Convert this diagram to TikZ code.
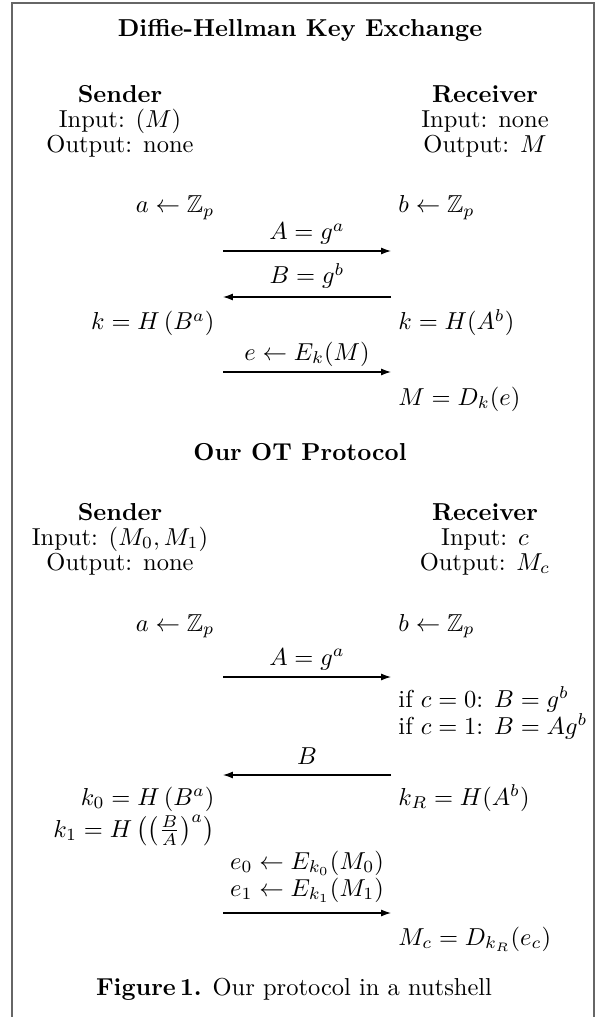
\documentclass[tikz,border=0pt]{standalone}
\usepackage{amsmath,amssymb}
\usetikzlibrary{arrows.meta}
\begin{document}
\begin{tikzpicture}[x=0.4082pt,y=-0.4082pt,
  lt/.style={anchor=base east,inner sep=0pt},
  rt/.style={anchor=base west,inner sep=0pt},
  ct/.style={anchor=base,inner sep=0pt},
  msg/.style={-{Latex[length=4pt,width=2.8pt]},line width=0.45pt},
  frame/.style={draw=black!60,line width=0.6pt}]
\useasboundingbox (0,0) rectangle (600,1017);
\draw[frame] (12,1017) -- (12,3) -- (594,3) -- (594,1017);

% ---------- Diffie-Hellman ----------
\node[ct] (t1) at (300,37) {\textbf{Diffie-Hellman Key Exchange}};
\node[ct] (s1h) at (120,103) {\textbf{Sender}};
\node[ct] (s1i) at (120,128) {Input: $(M)$};
\node[ct] (s1o) at (120,153) {Output: none};
\node[ct] (r1h) at (485,103) {\textbf{Receiver}};
\node[ct] (r1i) at (485,128) {Input: none};
\node[ct] (r1o) at (485,153) {Output: $M$};

\node[lt] (sa1) at (215,213) {$a \leftarrow \mathbb{Z}_p$};
\node[rt] (rb1) at (398,213) {$b \leftarrow \mathbb{Z}_p$};
\coordinate (m1s) at (223,251); \coordinate (m1e) at (391,251);
\node[ct] (m1l) at (307,240) {$A = g^a$};
\draw[msg] (m1s) -- (m1e);
\coordinate (m2s) at (391,297); \coordinate (m2e) at (223,297);
\node[ct] (m2l) at (307,284) {$B = g^b$};
\draw[msg] (m2s) -- (m2e);
\node[lt] (sk1) at (215,330) {$k = H\left(B^a\right)$};
\node[rt] (rk1) at (398,330) {$k = H(A^b)$};
\coordinate (m3s) at (223,372); \coordinate (m3e) at (391,372);
\node[ct] (m3l) at (307,360) {$e \leftarrow E_k(M)$};
\draw[msg] (m3s) -- (m3e);
\node[rt] (rm1) at (398,405) {$M = D_k(e)$};

% ---------- OT ----------
\node[ct] (t2) at (300,460) {\textbf{Our OT Protocol}};
\node[ct] (s2h) at (120,520) {\textbf{Sender}};
\node[ct] (s2i) at (120,545) {Input: $(M_0, M_1)$};
\node[ct] (s2o) at (120,570) {Output: none};
\node[ct] (r2h) at (485,520) {\textbf{Receiver}};
\node[ct] (r2i) at (485,545) {Input: $c$};
\node[ct] (r2o) at (485,570) {Output: $M_c$};

\node[lt] (sa2) at (215,631) {$a \leftarrow \mathbb{Z}_p$};
\node[rt] (rb2) at (398,631) {$b \leftarrow \mathbb{Z}_p$};
\coordinate (n1s) at (223,677); \coordinate (n1e) at (391,677);
\node[ct] (n1l) at (307,665) {$A = g^a$};
\draw[msg] (n1s) -- (n1e);
\node[rt] (rc0) at (398,707) {if $c = 0$: $B = g^b$};
\node[rt] (rc1) at (398,734) {if $c = 1$: $B = Ag^b$};
\coordinate (n2s) at (391,775); \coordinate (n2e) at (223,775);
\node[ct] (n2l) at (307,764) {$B$};
\draw[msg] (n2s) -- (n2e);
\node[lt] (sk0) at (215,805) {$k_0 = H\left(B^a\right)$};
\node[lt] (sk1b) at (215,837) {$k_1 = H\mathinner{\smash[t]{\bigl(\bigl(\tfrac{B}{A}\bigr)^a\bigr)}}$};
\node[rt] (rkr) at (398,805) {$k_R = H(A^b)$};
\node[ct] (n3a) at (307,869) {$e_0 \leftarrow E_{k_0}(M_0)$};
\node[ct] (n3b) at (307,896) {$e_1 \leftarrow E_{k_1}(M_1)$};
\coordinate (n3s) at (223,913); \coordinate (n3e) at (391,913);
\draw[msg] (n3s) -- (n3e);
\node[rt] (rmc) at (398,945) {$M_c = D_{k_R}(e_c)$};

\node[ct] (cap) at (294,995) {\textbf{Figure\,1.} Our protocol in a nutshell};
\end{tikzpicture}
\end{document}
